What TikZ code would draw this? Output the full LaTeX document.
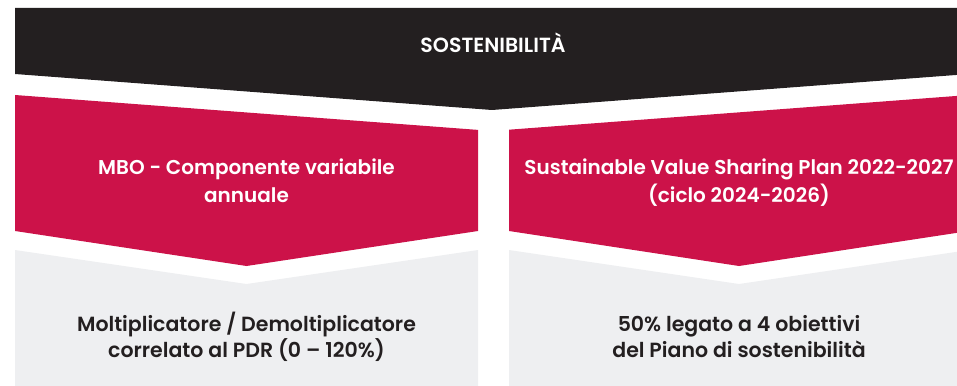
\documentclass[tikz,border=0pt]{standalone}
\usepackage{fontspec}
\setmainfont{Poppins}[BoldFont={Poppins SemiBold}]
\definecolor{ink}{HTML}{231F20}
\definecolor{crim}{HTML}{CC1249}
\definecolor{pale}{HTML}{EEEFF1}
\tikzset{
  lbl/.style={anchor=base, inner sep=0pt, font=\bfseries\fontsize{20}{24}\selectfont},
  wlbl/.style={lbl, text=white},
  dlbl/.style={lbl, text=ink, font=\bfseries\fontsize{20.5}{24}\selectfont},
  ttl/.style={anchor=base, inner sep=0pt, text=white, font=\bfseries\fontsize{20.5}{24}\selectfont}
}
\begin{document}
\begin{tikzpicture}[x=1pt,y=-1pt]
\useasboundingbox (0,0) rectangle (957,385);
\clip (0,0) rectangle (957,385);
% black banner
\fill[ink] (15,8) -- (969,8) -- (969,74) -- (492,110) -- (15,74) -- cycle;
% red chevrons
\fill[crim] (15,95) -- (478,129.9) -- (478,231) -- (246.5,266) -- (15,231) -- cycle;
\fill[crim] (509,129.7) -- (969,95) -- (969,231) -- (739,266) -- (509,231) -- cycle;
% grey boxes
\fill[pale] (15,250) -- (246.5,284) -- (478,250) -- (478,390) -- (15,390) -- cycle;
\fill[pale] (509,250) -- (739,284) -- (969,250) -- (969,390) -- (509,390) -- cycle;
% texts
\node[ttl] (title) at (493,53) {SOSTENIBILITÀ};
\node[wlbl] (mbo1) at (246.5,174) {MBO - Componente variabile};
\node[wlbl] (mbo2) at (246.5,202) {annuale};
\node[wlbl] (svs1) at (739,174) {Sustainable Value Sharing Plan 2022-2027};
\node[wlbl] (svs2) at (739,202) {(ciclo 2024-2026)};
\node[dlbl] (mol1) at (246.5,331) {Moltiplicatore / Demoltiplicatore};
\node[dlbl] (mol2) at (246.5,357) {correlato al PDR (0 – 120\%)};
\node[dlbl] (obj1) at (739,331) {50\% legato a 4 obiettivi};
\node[dlbl] (obj2) at (739,357) {del Piano di sostenibilità};
\end{tikzpicture}
\end{document}
